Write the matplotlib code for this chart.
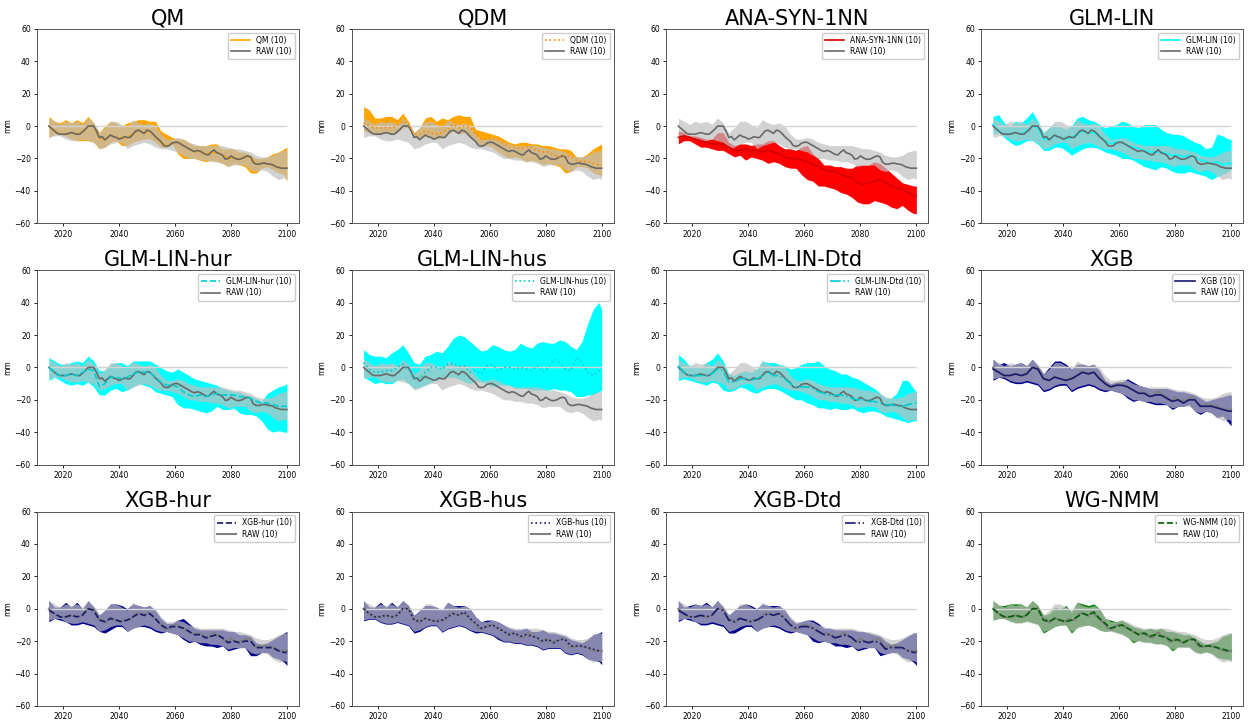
"""Ensemble-mean change in precipitation (mm), 12 downscaling methods vs RAW, 2015-2100."""
import numpy as np
import matplotlib
matplotlib.use("Agg")
import matplotlib.pyplot as plt

# yearly grid for the RAW ensemble mean, two-year grid for the bands and method means
YEARS = list(range(2015, 2101))
YEARS2 = list(range(2015, 2100, 2)) + [2100]

RAW_MEAN = [0, -1.5, -3, -4.5, -5, -5, -5, -4.5, -4, -4.5,
            -5, -5, -3.5, -2, 0, 0, 0, -3, -7, -6.5,
            -8.5, -7, -5.5, -6.5, -7, -8, -7.5, -6.5, -7, -7,
            -5, -3, -2.5, -3.5, -4.5, -2.5, -3, -4.5, -6.5, -8,
            -9.5, -12, -12.5, -12, -10.5, -10, -10, -11, -12, -13,
            -14, -15, -15.7, -15, -15.5, -16.5, -17.5, -17.8, -16, -14.7,
            -16.5, -17, -18, -20.4, -20, -18.4, -19.5, -20.4, -20.5, -20,
            -19, -18.4, -19, -22.5, -23.5, -23.5, -23, -22.8, -23.3, -23.5,
            -24, -25, -25.5, -26, -26, -26]
RAW_HI = [5, 3, 1, 3, 2, 3, 1, 5, 2, -4, -1,
          3, 3, 1, -1, 4, 2, 1, 2, 0, -5, -8,
          -8, -7, -8, -10, -11, -12, -12, -12, -12, -12, -13,
          -14, -14, -15, -16, -18, -19, -19, -18, -16, -15, -15]
RAW_LO = [-7, -6, -6, -8, -9, -9, -8, -9, -10, -14, -13,
          -11, -10, -10, -14, -12, -11, -10, -11, -13, -14, -14,
          -15, -16, -18, -20, -20, -21, -21, -22, -22, -23, -25,
          -24, -24, -24, -27, -28, -27, -28, -31, -33, -32, -33]

QM_MEAN = [0, -3, -5, -5, -4, -5, -3.5, 0, 0, -7, -8.5,
           -5.5, -7, -7.5, -7, -5, -2.5, -4.5, -3, -6.5, -9.5, -12.5,
           -10.5, -10, -12, -14, -15.7, -15.5, -17.5, -16, -16.5, -18, -20,
           -19.5, -20.5, -19, -19, -23.5, -23, -23.3, -24, -25.5, -26, -26]
QM_HI = [6, 3, 2, 4, 2, 4, 2, 6, 2, -4, 0,
         3, 2, 0, 2, 3, 4, 4, 3, 3, -3, -5,
         -7, -8, -8, -10, -12, -12, -12, -11, -11, -14, -14,
         -14, -16, -16, -18, -20, -20, -19, -17, -16, -14, -13]
QM_LO = [-7, -5, -5, -6, -8, -9, -9, -9, -10, -14, -13,
         -10, -9, -12, -12, -10, -9, -8, -8, -10, -13, -13,
         -11, -17, -20, -20, -20, -21, -22, -21, -22, -23, -25,
         -23, -24, -25, -29, -29, -26, -25, -27, -29, -30, -34]

QDM_MEAN = [2, 0, -1, -1, -1, -1, 0, 3, 2, -5, -5,
            -3, -4, -5, -4, -2, 1, -1, 0, -1, -5, -8,
            -8, -8, -9, -11, -13, -13, -14, -13, -13, -15, -16,
            -16, -18, -19, -18, -19, -21, -22, -22, -23, -24, -24]
QDM_HI = [12, 10, 5, 5, 6, 6, 4, 8, 3, -4, -1,
          5, 6, 3, 5, 4, 6, 7, 6, 6, -2, -3,
          -4, -5, -6, -8, -10, -11, -10, -10, -11, -11, -12,
          -12, -13, -14, -14, -15, -19, -19, -17, -14, -12, -11]
QDM_LO = [-3, -4, -5, -5, -4, -5, -4, -1, -1, -7, -8,
          -6, -7, -8, -7, -5, -3, -5, -4, -7, -10, -12,
          -12, -13, -16, -18, -20, -19, -20, -22, -21, -22, -24,
          -23, -24, -25, -29, -28, -25, -25, -26, -29, -30, -31]

ANA_MEAN = [-7, -6, -7, -8, -9, -10, -11, -11, -11, -13, -15,
            -15, -14, -15, -15, -16, -15, -16, -17, -19, -20, -20,
            -21, -22, -24, -25, -27, -28, -28, -30, -31, -32, -35,
            -36, -35, -34, -33, -35, -37, -38, -39, -41, -43, -43]
ANA_HI = [-3, -4, -6, -6, -7, -8, -8, -4, -4, -10, -12,
          -11, -11, -12, -11, -11, -9, -9, -12, -14, -14, -15,
          -13, -12, -17, -20, -24, -24, -25, -25, -26, -26, -24,
          -24, -24, -22, -23, -26, -29, -32, -35, -36, -37, -37]
ANA_LO = [-11, -9, -9, -11, -13, -13, -14, -15, -15, -17, -19,
          -18, -21, -19, -20, -21, -23, -22, -23, -25, -26, -26,
          -30, -33, -34, -37, -37, -38, -39, -41, -42, -44, -47,
          -48, -48, -46, -47, -48, -50, -51, -49, -52, -54, -54]

GLM_MEAN = [1, -3, -5, -5, -4, -5, -3, 0, -1, -8, -8,
            -6, -7, -8, -7, -5, -3, -4, -4, -6, -9, -11,
            -10, -10, -12, -13, -14, -15, -16, -16, -16, -17, -18,
            -18, -19, -18, -19, -21, -22, -23, -22, -24, -23, -23]
GLM_HI = [6, 7, 2, 0, 3, 2, 5, 9, 3, -4, -1,
          1, 0, -2, 0, 5, 6, 4, 3, 1, -1, 0,
          1, 3, 2, 0, -1, 1, 1, 1, -2, -4, -5,
          -5, -6, -8, -10, -11, -14, -13, -5, -6, -8, -8]
GLM_LO = [-5, -4, -7, -10, -12, -11, -9, -9, -11, -15, -15,
          -13, -13, -15, -18, -16, -14, -13, -13, -14, -16, -17,
          -18, -20, -20, -21, -23, -25, -26, -27, -25, -26, -28,
          -29, -29, -28, -29, -30, -31, -33, -31, -30, -28, -27]

HUR_MEAN = [0, -3, -5, -5, -4, -5, -3, -1, -2, -12, -10,
            -6, -6, -7, -6, -4, -3, -3, -3, -6, -9, -11,
            -11, -12, -15, -17, -18, -17, -18, -17, -16, -17, -17,
            -17, -18, -18, -19, -21, -22, -22, -23, -24, -24, -24]
HUR_HI = [6, 4, 2, 2, 3, 4, 3, 7, 4, -2, -2,
          2, 3, 3, 1, 4, 4, 4, 4, 2, 0, -2,
          -3, -1, -3, -5, -7, -8, -9, -10, -11, -13, -14,
          -15, -15, -17, -18, -19, -21, -16, -14, -12, -11, -10]
HUR_LO = [-8, -6, -8, -10, -11, -10, -11, -9, -12, -17, -17,
          -14, -13, -15, -14, -12, -10, -11, -12, -15, -16, -17,
          -18, -23, -25, -25, -26, -27, -28, -27, -24, -26, -26,
          -25, -28, -29, -29, -30, -33, -38, -40, -39, -40, -40]

HUS_MEAN = [3, -1, -3, -3, -2, -2, 0, 2, -1, -6, -7,
            -3, 0, 0, -1, 2, 2, 1, 1, -3, -2, -4,
            1, 2, -2, 0, 0, -1, 0, -1, -2, 1, -3,
            0, 5, 3, -1, -2, 6, 3, -3, -5, -2, -3]
HUS_HI = [11, 8, 7, 7, 6, 9, 11, 14, 9, 3, 2,
          7, 8, 10, 9, 13, 18, 20, 19, 16, 13, 10,
          11, 14, 13, 11, 10, 11, 15, 13, 12, 15, 16,
          15, 15, 17, 16, 13, 11, 16, 27, 36, 40, 36]
HUS_LO = [-6, -8, -10, -9, -10, -10, -8, -7, -10, -13, -12,
          -11, -9, -8, -7, -6, -6, -7, -9, -10, -8, -9,
          -10, -12, -11, -11, -11, -13, -13, -13, -14, -14, -14,
          -14, -13, -14, -14, -15, -18, -18, -17, -17, -15, -14]

DTD_MEAN = [1, -3, -5, -5, -5, -5, -4, -1, -2, -9, -9,
            -7, -7, -8, -7, -5, -3, -5, -5, -7, -10, -12,
            -12, -12, -13, -15, -16, -17, -17, -17, -18, -19, -20,
            -20, -21, -21, -22, -23, -23, -24, -24, -23, -22, -22]
DTD_HI = [8, 5, 1, 1, 0, 3, 5, 9, 4, -4, -5,
          -3, -2, -3, -1, 4, 3, 3, 2, 1, -1, 0,
          2, 3, 3, 4, 1, -1, -2, -4, -4, -6, -7,
          -9, -11, -13, -16, -19, -19, -16, -8, -8, -13, -15]
DTD_LO = [-8, -7, -8, -9, -10, -11, -9, -10, -14, -15, -14,
          -12, -13, -15, -16, -14, -13, -13, -14, -16, -18, -20,
          -20, -22, -23, -25, -25, -26, -25, -26, -26, -25, -27,
          -28, -27, -27, -28, -30, -31, -32, -33, -34, -33, -33]

XGB_MEAN = [-1, -3, -5, -5, -4, -5, -4, 0, -1, -7, -8,
            -6, -7, -8, -7, -5, -3, -4, -3, -7, -10, -12,
            -11, -11, -12, -14, -16, -16, -18, -17, -17, -19, -21,
            -20, -22, -20, -20, -24, -24, -24, -25, -26, -27, -27]
XGB_HI = [5, 2, 3, 1, 2, 3, 1, 5, 1, -4, 0,
          4, 4, 2, -1, 2, 2, 1, 2, -2, -8, -10,
          -9, -9, -7, -9, -11, -12, -13, -13, -13, -13, -14,
          -15, -15, -16, -17, -19, -21, -20, -19, -18, -17, -17]
XGB_LO = [-8, -6, -7, -9, -10, -10, -9, -10, -11, -15, -14,
          -12, -11, -11, -15, -13, -12, -11, -12, -14, -15, -14,
          -15, -16, -19, -21, -20, -21, -22, -23, -23, -23, -26,
          -24, -24, -23, -27, -29, -27, -28, -31, -30, -34, -36]

XGBHUR_MEAN = [-1, -3, -5, -5, -4, -5, -4, 0, -1, -7, -8,
               -6, -7, -8, -7, -5, -3, -4, -3, -6, -10, -12,
               -11, -11, -12, -14, -16, -16, -18, -17, -16, -18, -21,
               -20, -21, -20, -20, -24, -24, -24, -24, -26, -27, -27]
XGBHUR_HI = [5, 1, 1, 4, 1, 4, 0, 5, 1, -4, -1,
             3, 3, 2, 0, 3, 2, 1, 2, -1, -6, -9,
             -9, -7, -6, -9, -12, -13, -13, -13, -13, -13, -14,
             -14, -16, -16, -17, -21, -22, -21, -19, -17, -15, -14]
XGBHUR_LO = [-8, -6, -7, -8, -10, -10, -9, -10, -11, -14, -15,
             -13, -11, -11, -14, -12, -11, -11, -12, -14, -15, -14,
             -15, -16, -19, -21, -20, -22, -23, -23, -24, -23, -26,
             -25, -24, -24, -29, -29, -27, -27, -30, -31, -33, -35]

XGBHUS_MEAN = [0, -3, -5, -5, -4, -5, -4, 0, 0, -7, -8,
               -6, -7, -8, -7, -5, -3, -4, -2, -6, -9, -12,
               -11, -10, -12, -14, -16, -15, -17, -16, -17, -18, -20,
               -19, -21, -19, -19, -23, -23, -23, -24, -25, -26, -26]
XGBHUS_HI = [5, 1, 1, 4, 1, 4, 1, 5, 2, -4, -1,
             2, 2, 1, -1, 4, 2, 2, 2, 0, -5, -8,
             -7, -7, -8, -10, -12, -13, -13, -12, -14, -14, -13,
             -15, -15, -16, -17, -19, -20, -21, -19, -16, -15, -14]
XGBHUS_LO = [-7.5, -6.5, -6.5, -8.5, -9.5, -9.5, -8.5, -9.5, -10.5, -15, -14,
             -11.5, -10.5, -10.5, -14.5, -12.5, -11.5, -10.5, -11.5, -13.5, -15, -14.5,
             -15.5, -16.5, -19, -20.5, -20.5, -21.5, -21.5, -22.5, -22.5, -23.5, -25.5,
             -24.5, -24.5, -24.5, -27.5, -28.5, -27.5, -28.5, -31, -32, -32.5, -34.5]

XGBDTD_MEAN = [-1, -3, -5, -5, -4, -5, -4, 0, -1, -7, -8,
               -6, -7, -8, -7, -5, -3, -4, -3, -6, -10, -12,
               -11, -11, -12, -14, -16, -16, -18, -17, -16, -18, -21,
               -20, -21, -20, -21, -25, -24, -24, -24, -26, -27, -27]
XGBDTD_HI = [5, 1, 2, 3, 2, 4, 1, 5, 1, -4, -1,
             2, 3, 2, 0, 3, 2, 2, 2, -1, -6, -9,
             -8, -7, -7, -9, -12, -12, -13, -13, -13, -13, -14,
             -14, -15, -16, -17, -20, -22, -21, -19, -17, -15, -15]
XGBDTD_LO = [-8, -6, -7, -8, -10, -10, -9, -10, -11, -15, -15,
             -13, -11, -11, -14, -12, -11, -11, -12, -14, -15, -14,
             -15, -16, -20, -21, -20, -21, -23, -23, -24, -23, -26,
             -25, -24, -24, -29, -28, -27, -27, -30, -31, -33, -35]

WG_MEAN = [0, -3, -5, -5, -4, -5, -4, 0, 0, -7, -8,
           -6, -7, -8, -7, -5, -3, -4, -2, -6, -9, -12,
           -11, -10, -12, -14, -16, -15, -17, -16, -17, -18, -20,
           -19, -21, -19, -19, -23, -23, -23, -24, -25, -26, -26]
WG_HI = [5, 2, 2, 3, 3, 3, 1, 5, 2, -4, -3,
         1, 0, 2, -2, 4, 3, 2, 3, 0, -6, -7,
         -8, -7, -9, -11, -12, -13, -12, -13, -12, -14, -14,
         -15, -16, -16, -18, -20, -22, -21, -20, -17, -16, -15]
WG_LO = [-7, -6, -6, -7.5, -8.5, -8.5, -7.5, -8.5, -9.5, -15, -13,
         -11, -10, -10, -15, -11.5, -10.5, -10, -11, -13, -14, -13.5,
         -14.5, -15.5, -17.5, -21, -19.5, -20.5, -20.5, -21.5, -21.5, -22.5, -26,
         -23.5, -23.5, -23.5, -26.5, -27.5, -26.5, -27.5, -30, -31, -31, -32]

METHODS = ["QM", "QDM", "ANA-SYN-1NN", "GLM-LIN",
           "GLM-LIN-hur", "GLM-LIN-hus", "GLM-LIN-Dtd", "XGB",
           "XGB-hur", "XGB-hus", "XGB-Dtd", "WG-NMM"]
MEANS = [QM_MEAN, QDM_MEAN, ANA_MEAN, GLM_MEAN, HUR_MEAN, HUS_MEAN, DTD_MEAN,
         XGB_MEAN, XGBHUR_MEAN, XGBHUS_MEAN, XGBDTD_MEAN, WG_MEAN]
HIS = [QM_HI, QDM_HI, ANA_HI, GLM_HI, HUR_HI, HUS_HI, DTD_HI,
       XGB_HI, XGBHUR_HI, XGBHUS_HI, XGBDTD_HI, WG_HI]
LOS = [QM_LO, QDM_LO, ANA_LO, GLM_LO, HUR_LO, HUS_LO, DTD_LO,
       XGB_LO, XGBHUR_LO, XGBHUS_LO, XGBDTD_LO, WG_LO]
N_MEMBERS = 10

# band colour, line colour, line style, line above RAW?, RAW line colour/width
STYLE = {
    "QM": ("orange", "orange", "-", False, "dimgray", 1.2),
    "QDM": ("orange", "darkorange", ":", True, "dimgray", 1.2),
    "ANA-SYN-1NN": ("red", "#d40000", "-", True, "dimgray", 1.2),
    "GLM-LIN": ("cyan", "cyan", "-", False, "dimgray", 1.2),
    "GLM-LIN-hur": ("cyan", "darkturquoise", "--", True, "dimgray", 1.2),
    "GLM-LIN-hus": ("cyan", "darkturquoise", ":", True, "dimgray", 1.2),
    "GLM-LIN-Dtd": ("cyan", "darkturquoise", "-.", True, "dimgray", 1.2),
    "XGB": ("darkblue", "midnightblue", "-", True, "gray", 1.5),
    "XGB-hur": ("darkblue", "midnightblue", "--", True, "gray", 1.5),
    "XGB-hus": ("darkblue", "midnightblue", ":", True, "gray", 1.5),
    "XGB-Dtd": ("darkblue", "midnightblue", "-.", True, "gray", 1.5),
    "WG-NMM": ("green", "darkgreen", "--", True, "gray", 1.5),
}


def main():
    fig, axes = plt.subplots(3, 4, figsize=(12.5, 7.24), dpi=100)
    fig.subplots_adjust(left=0.0296, right=0.9944, top=0.96, bottom=0.025,
                        wspace=0.202, hspace=0.242)

    for ax, name, mean, hi, lo in zip(axes.flat, METHODS, MEANS, HIS, LOS):
        band_c, line_c, ls, on_top, raw_c, raw_lw = STYLE[name]
        ax.fill_between(YEARS2, lo, hi, color=band_c, lw=0, zorder=1)
        ax.fill_between(YEARS2, RAW_LO, RAW_HI, color="silver", alpha=0.7,
                        lw=0, zorder=2)
        ax.hlines(0, YEARS[0], YEARS[-1], color="lightgray", lw=1.0, zorder=3)
        m_line, = ax.plot(YEARS2, mean, color=line_c, ls=ls, lw=1.2,
                          zorder=5 if on_top else 3.5,
                          label=f"{name} ({N_MEMBERS})")
        r_line, = ax.plot(YEARS, RAW_MEAN, color=raw_c, lw=raw_lw, zorder=4,
                          label=f"RAW ({N_MEMBERS})")

        ax.set_title(name, fontsize=15, pad=3)
        ax.set_ylim(-60, 60)
        ax.set_yticks(np.arange(-60, 61, 20))
        ax.set_xticks(np.arange(2020, 2101, 20))
        ax.set_ylabel("mm", fontsize=5.5, labelpad=2)
        ax.tick_params(labelsize=5.5, length=2.5, width=0.6, pad=2)
        for sp in ax.spines.values():
            sp.set_linewidth(0.7)
            sp.set_color("#555555")
        ax.legend(handles=[m_line, r_line], loc="upper right", fontsize=5.5,
                  handlelength=2.5, borderpad=0.4, labelspacing=0.3,
                  framealpha=1.0, edgecolor="#cccccc", fancybox=True)

    fig.savefig("out.png", dpi=100)


if __name__ == "__main__":
    main()
